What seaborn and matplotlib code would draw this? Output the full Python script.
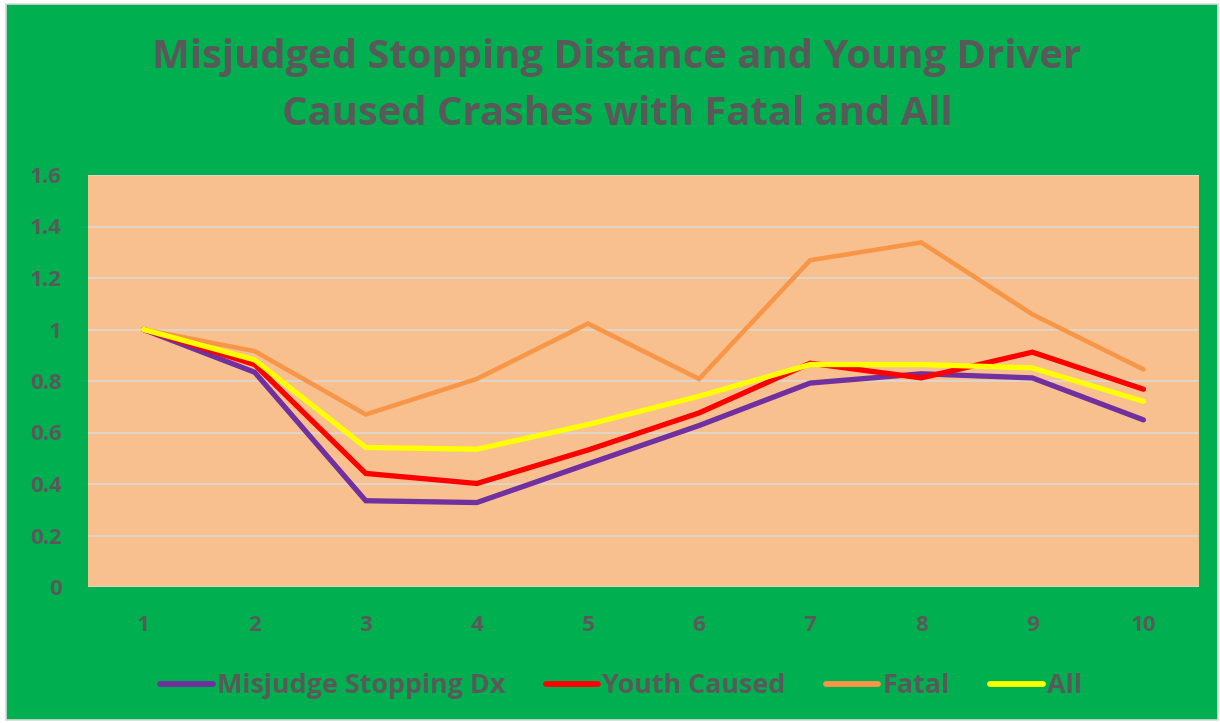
import matplotlib
matplotlib.use("Agg")
import matplotlib.pyplot as plt
from matplotlib.patches import Rectangle
from matplotlib.lines import Line2D
import seaborn as sns
import pandas as pd

# ---- data ----
periods = [1, 2, 3, 4, 5, 6, 7, 8, 9, 10]
misjudge = [1.0, 0.834, 0.335, 0.328, 0.478, 0.627, 0.792, 0.828, 0.812, 0.649]
youth = [1.0, 0.864, 0.441, 0.402, 0.532, 0.676, 0.869, 0.812, 0.912, 0.768]
fatal = [1.0, 0.916, 0.670, 0.808, 1.023, 0.808, 1.269, 1.338, 1.059, 0.845]
all_crashes = [1.0, 0.882, 0.542, 0.535, 0.631, 0.741, 0.864, 0.864, 0.851, 0.721]
series_names = ["Misjudge Stopping Dx", "Youth Caused", "Fatal", "All"]
y_ticks = [0, 0.2, 0.4, 0.6, 0.8, 1.0, 1.2, 1.4, 1.6]
y_tick_labels = ["0", "0.2", "0.4", "0.6", "0.8", "1", "1.2", "1.4", "1.6"]
title = "Misjudged Stopping Distance and Young Driver\nCaused Crashes with Fatal and All"

colors = ["#7030A0", "#FF0000", "#F79646", "#FFFF00"]
widths = [3.8, 3.8, 3.3, 3.8]

df = pd.DataFrame({
    "x": periods * 4,
    "y": misjudge + youth + fatal + all_crashes,
    "series": sum([[n] * len(periods) for n in series_names], []),
})

sns.set_theme(style="white")
plt.rcParams["font.family"] = ["Open Sans", "DejaVu Sans"]

W, H = 1220, 723
fig = plt.figure(figsize=(W / 100, H / 100), dpi=100)
fig.patch.set_facecolor("white")
fig.add_artist(Rectangle((6 / W, 1 - 720 / H), 1212 / W, 716 / H, transform=fig.transFigure,
                         facecolor="#00B050", edgecolor="#D9D9D9", linewidth=1.2, zorder=-10))

ax = fig.add_axes([88 / W, 1 - 587 / H, (1199 - 88) / W, (587 - 175) / H])
ax.set_facecolor("#F9C08F")

for i, name in enumerate(series_names):
    sub = df[df["series"] == name]
    sns.lineplot(data=sub, x="x", y="y", ax=ax, color=colors[i], linewidth=widths[i],
                 solid_capstyle="round", solid_joinstyle="miter", legend=False, zorder=3 + i)

ax.set_xlim(0.5, 10.5)
ax.set_ylim(0, 1.6)
ax.set_yticks(y_ticks)
ax.set_yticklabels(y_tick_labels)
ax.set_xticks(periods)
ax.set_xticklabels([str(p) for p in periods])
ax.yaxis.grid(True, color="#D9D9D9", linewidth=1.1)
ax.xaxis.grid(False)
for s in ax.spines.values():
    s.set_visible(False)
ax.tick_params(axis="both", length=0, labelsize=16, labelcolor="#595959")
ax.tick_params(axis="y", pad=19)
ax.tick_params(axis="x", pad=20)
for lbl in ax.get_xticklabels() + ax.get_yticklabels():
    lbl.set_fontweight("bold")
ax.set_xlabel("")
ax.set_ylabel("")

fig.text(617 / W, 1 - 86 / H, title, ha="center", va="center", fontsize=28.8,
         fontweight="bold", color="#595959", linespacing=1.62)

handles = [Line2D([0], [0], color=c, linewidth=4.2, solid_capstyle="round") for c in colors]
leg = fig.legend(handles, series_names, loc="center", bbox_to_anchor=(621 / W, 1 - 686 / H),
                 ncol=4, frameon=False, fontsize=19.4, handlelength=1.95, handletextpad=0.15,
                 columnspacing=1.5)
for t in leg.get_texts():
    t.set_color("#595959")
    t.set_fontweight("bold")

fig.savefig("out.png", dpi=100, facecolor=fig.get_facecolor())
